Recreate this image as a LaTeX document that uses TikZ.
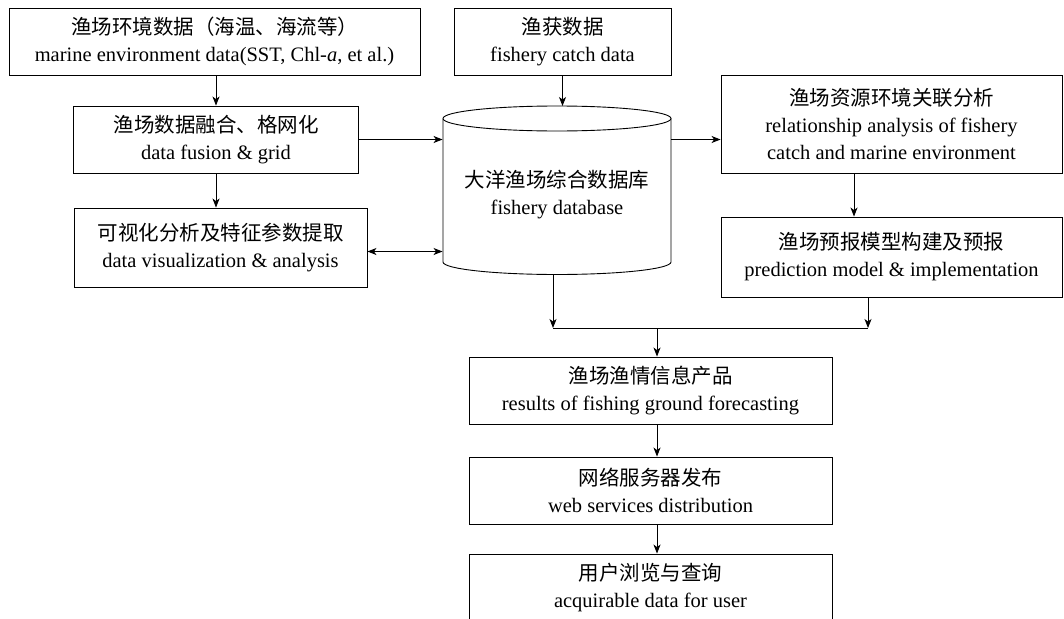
\documentclass[tikz,border=0pt]{standalone}
\usepackage{fontspec}
\setmainfont{Liberation Serif}
\newfontfamily\cjk{Noto Sans CJK SC}
\usetikzlibrary{arrows.meta}
\newcommand{\zh}[1]{{\cjk #1}}

\begin{document}
\begin{tikzpicture}[x=1pt,y=-1pt,
		>={Stealth[length=9pt,width=7pt,inset=2.5pt]},
		box/.style={draw, line width=0.9pt, inner sep=0pt, align=center, font=\fontsize{20.5}{27}\selectfont},
		arr/.style={->, line width=0.9pt}]
			\useasboundingbox (0,0) rectangle (1064,618);

			\node [box, minimum width=411pt, minimum height=67pt] (env) at (214.5,41.5) {\zh{渔场环境数据（海温、海流等）}\\marine environment data(SST, Chl-\textit{a}, et al.)};
			\node [box, minimum width=217pt, minimum height=67pt] (catch) at (562.5,41.5) {\zh{渔获数据}\\fishery catch data};
			\node [box, minimum width=285pt, minimum height=67pt] (fusion) at (216,139.5) {\zh{渔场数据融合、格网化}\\data fusion \& grid};
			\node [box, minimum width=293pt, minimum height=79pt] (visual) at (220.5,247.5) {\zh{可视化分析及特征参数提取}\\data visualization \& analysis};
			\node [box, minimum width=341pt, minimum height=98pt] (relat) at (891.5,124) {\zh{渔场资源环境关联分析}\\relationship analysis of fishery\\catch and marine environment};
			\node [box, minimum width=341pt, minimum height=80pt] (pred) at (891.5,257) {\zh{渔场预报模型构建及预报}\\prediction model \& implementation};
			\node [box, minimum width=363pt, minimum height=67pt] (res) at (650.5,390.5) {\zh{渔场渔情信息产品}\\results of fishing ground forecasting};
			\node [box, minimum width=363pt, minimum height=67pt] (web) at (650.5,490.5) {\zh{网络服务器发布}\\web services distribution};
			\node [box, minimum width=363pt, minimum height=67pt] (user) at (650.5,587.5) {\zh{用户浏览与查询}\\acquirable data for user};

			% database cylinder
			\node [box, draw=none, minimum width=228pt, minimum height=60pt] (db) at (557,194.5) {\zh{大洋渔场综合数据库}\\fishery database};
			\draw [line width=0.9pt] (557,118.5) ellipse [x radius=114pt, y radius=12.5pt];
			\draw [line width=0.9pt] (443,118.5) -- (443,262) arc [start angle=180, end angle=360, x radius=114pt, y radius=12.5pt] -- (671,118.5);
			\coordinate (dbtop) at (557,106);
			\coordinate (dbbot) at (553,274.5);

			\coordinate (mL) at (553,328);
			\coordinate (mR) at (868,328);
			\coordinate (mC) at (657,328);

			\draw [arr] (fusion.north |- env.south) -- (fusion.north);
			\draw [arr] (fusion.south) -- (fusion.south |- visual.north);
			\draw [arr] (catch.south) -- (catch.south |- dbtop);
			\draw [arr] (fusion.east) -- (fusion.east -| db.west);
			\draw [arr, <->] ([yshift=-4pt]visual.east) -- ([yshift=-4pt]visual.east -| db.west);
			\draw [arr] (fusion.east -| db.east) -- (fusion.east -| relat.west);
			\draw [arr] ([xshift=-37.5pt]relat.south) -- ([xshift=-37.5pt]pred.north);
			\draw [arr] (dbbot) -- (mL);
			\draw [arr] (pred.south -| mR) -- (mR);
			\draw [line width=0.9pt] (mL) -- (mR);
			\draw [arr] (mC) -- (mC |- res.north);
			\draw [arr] (res.south -| mC) -- (web.north -| mC);
			\draw [arr] (web.south -| mC) -- (user.north -| mC);

		\end{tikzpicture}
\end{document}
